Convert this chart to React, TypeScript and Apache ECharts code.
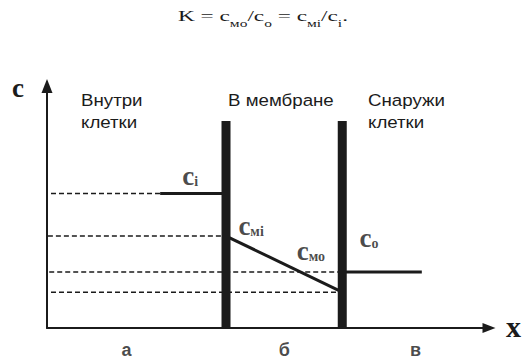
import React, { useEffect, useRef } from "react";
import * as echarts from "echarts";

// Region tick labels under the x axis and their centre positions (data units)
const regionLabels = ["а", "б", "в"];
const regionCenters = [18.0, 53.7, 83.4];

// Membrane walls (x positions) and their height
const membraneX = [40.5, 66.8];
const membraneTop = 85.5;

// Concentration levels
const levelNames = ["c_i", "c_mi", "c_o", "c_mo"];
const levelValues = [55.6, 38.0, 23.1, 14.8];
const dashStart = [0.9, 0.2, 0.5, 0.9];
const dashEnd = [25.6, 40.5, 66.8, 66.8];

// Solid segments
const ciSolid = [25.6, 40.5];
const coSolid = [66.8, 84.8];

// Level labels: [x, y] anchor, main letter, subscript
const labelPos = [
  [30.6, 62.9],
  [43.3, 42.2],
  [56.5, 31.9],
  [70.7, 37.2],
];
const labelSubs = ["i", "мі", "мо", "о"];

// Header texts
const headers = [
  { lines: ["Внутри", "клетки"], x: 81 },
  { lines: ["В мембране"], x: 228 },
  { lines: ["Снаружи", "клетки"], x: 368 },
];

const INK = "#1b1b1b";
const SERIF = "'Liberation Serif', 'Times New Roman', serif";
const SANS = "'Liberation Sans', Arial, sans-serif";

export default function App() {
  const ref = useRef<HTMLDivElement>(null);

  useEffect(() => {
    if (!ref.current) return;
    const chart = echarts.init(ref.current, undefined, { renderer: "svg" });

    const series: any[] = [];

    // dashed guide lines
    levelValues.forEach((v, i) => {
      series.push({
        type: "line",
        name: levelNames[i] + "_dash",
        data: [
          [dashStart[i], v],
          [dashEnd[i], v],
        ],
        symbol: "none",
        lineStyle: { color: INK, width: 1.5, type: [5, 3] },
        silent: true,
        z: 2,
      });
    });

    // solid segments
    series.push({
      type: "line",
      data: [
        [ciSolid[0], levelValues[0]],
        [ciSolid[1], levelValues[0]],
      ],
      symbol: "none",
      lineStyle: { color: INK, width: 3 },
      z: 3,
    });
    series.push({
      type: "line",
      data: [
        [membraneX[0], levelValues[1]],
        [membraneX[1], levelValues[3]],
      ],
      symbol: "none",
      lineStyle: { color: INK, width: 3 },
      z: 3,
    });
    series.push({
      type: "line",
      data: [
        [coSolid[0], levelValues[2]],
        [coSolid[1], levelValues[2]],
      ],
      symbol: "none",
      lineStyle: { color: INK, width: 3 },
      z: 3,
    });

    // membranes
    membraneX.forEach((mx) => {
      series.push({
        type: "line",
        data: [
          [mx, 0],
          [mx, membraneTop],
        ],
        symbol: "none",
        lineStyle: { color: INK, width: 9, cap: "butt" },
        z: 4,
      });
    });

    // level labels
    series.push({
      type: "scatter",
      symbolSize: 0,
      data: labelPos.map((p, i) => ({ value: p, sub: labelSubs[i] })),
      label: {
        show: true,
        position: [0, 0],
        align: "left",
        verticalAlign: "middle",
        formatter: (p: any) => `{c|c}{s|${p.data.sub}}`,
        rich: {
          c: {
            fontFamily: SERIF,
            fontWeight: "bold",
            fontSize: 27,
            lineHeight: 26,
            color: INK,
            verticalAlign: "middle",
          },
          s: {
            fontFamily: SERIF,
            fontWeight: "bold",
            fontSize: 14,
            lineHeight: 14,
            color: INK,
            verticalAlign: "top",
            padding: [12, 0, 0, 0],
          },
        },
      },
      z: 5,
    });

    // region labels
    series.push({
      type: "scatter",
      symbolSize: 0,
      data: regionCenters.map((x, i) => ({ value: [x, 0], name: regionLabels[i] })),
      label: {
        show: true,
        position: [0, 22],
        align: "center",
        verticalAlign: "middle",
        formatter: (p: any) => p.name,
        fontFamily: SANS,
        fontWeight: "bold",
        fontSize: 18,
        color: INK,
      },
      z: 5,
    });

    const graphic: any[] = [];
    headers.forEach((h) => {
      h.lines.forEach((t, li) => {
        graphic.push({
          type: "text",
          x: h.x,
          y: 92 + li * 22,
          scaleX: 1.1,
          style: {
            text: t,
            font: `17px ${SANS}`,
            fill: INK,
            align: "left",
            verticalAlign: "top",
          },
        });
      });
    });
    graphic.push({
      type: "text",
      left: 12,
      top: 74,
      style: { text: "c", font: `bold 27px ${SERIF}`, fill: INK },
    });
    graphic.push({
      type: "text",
      left: 506,
      top: 311,
      style: { text: "x", font: `bold 30px ${SERIF}`, fill: INK },
    });
    graphic.push({
      type: "text",
      x: 178,
      y: 8.4,
      scaleX: 1.55,
      style: {
        text: "{n|K = c}{s|мо}{n|/c}{s|о}{n| = c}{s|мі}{n|/c}{s|i}{n|.}",
        align: "left",
        verticalAlign: "top",
        rich: {
          n: {
            fontFamily: SERIF,
            fontWeight: "normal",
            fontSize: 15,
            lineHeight: 15,
            fill: INK,
            verticalAlign: "top",
          },
          s: {
            fontFamily: SERIF,
            fontWeight: "normal",
            fontSize: 10,
            lineHeight: 10,
            fill: INK,
            verticalAlign: "top",
            padding: [10, 0, 0, 0],
          },
        },
      },
    });

    chart.setOption({
      animation: false,
      backgroundColor: "#ffffff",
      grid: { left: 47, right: 42, top: 86, bottom: 33 },
      xAxis: {
        type: "value",
        min: 0,
        max: 100,
        axisLine: {
          show: true,
          symbol: ["none", "triangle"],
          symbolSize: [10, 13],
          lineStyle: { color: INK, width: 2 },
        },
        axisTick: { show: false },
        axisLabel: { show: false },
        splitLine: { show: false },
      },
      yAxis: {
        type: "value",
        min: 0,
        max: 100,
        axisLine: {
          show: true,
          symbol: ["none", "triangle"],
          symbolSize: [11, 14],
          lineStyle: { color: INK, width: 2 },
        },
        axisTick: { show: false },
        axisLabel: { show: false },
        splitLine: { show: false },
      },
      graphic,
      series,
    });

    return () => chart.dispose();
  }, []);

  return (
    <div
      ref={ref}
      style={{
        position: "fixed",
        left: 0,
        top: 0,
        width: 531,
        height: 361,
        background: "#fff",
      }}
    />
  );
}
